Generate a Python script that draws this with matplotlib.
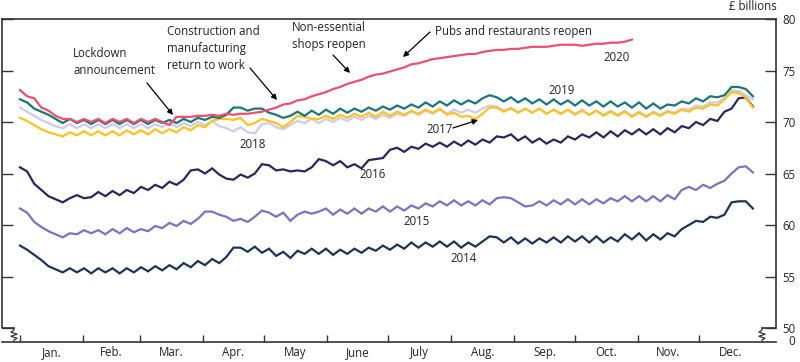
import numpy as np
import matplotlib
matplotlib.use("Agg")
import matplotlib.pyplot as plt
from matplotlib.transforms import blended_transform_factory

plt.rcParams['font.family'] = ['Open Sans', 'DejaVu Sans']

# weekly notes-in-circulation style series, two readings per week (every 3.5 days)
v2014 = [58.0, 57.6, 57.1, 56.6, 56.0, 55.7, 55.4, 55.8, 55.4, 55.8, 55.3, 55.8, 55.4, 55.8, 55.3, 55.8,
         55.4, 55.9, 55.5, 56.0, 55.6, 56.1, 55.7, 56.3, 55.9, 56.5, 56.1, 56.7, 56.3, 56.9, 57.8, 57.8,
         57.4, 57.9, 57.3, 57.7, 57.0, 57.4, 56.8, 57.5, 57.2, 57.7, 57.2, 57.7, 57.1, 57.6, 57.2, 57.7,
         57.3, 57.8, 57.5, 58.0, 57.6, 58.1, 57.7, 58.3, 57.8, 58.3, 57.9, 58.4, 57.9, 58.4, 57.8, 58.3,
         57.9, 58.4, 58.9, 58.8, 58.3, 58.8, 58.2, 58.7, 58.2, 58.7, 58.3, 58.8, 58.3, 58.9, 58.4, 58.9,
         58.3, 58.9, 58.3, 58.8, 58.4, 59.1, 58.6, 59.2, 58.5, 59.1, 58.6, 59.2, 58.9, 59.6, 60.0, 60.4,
         60.3, 60.8, 60.7, 61.0, 62.2, 62.3, 62.3, 61.6]
v2015 = [61.6, 61.2, 60.3, 59.8, 59.4, 59.1, 58.8, 59.2, 59.1, 59.5, 59.2, 59.5, 59.1, 59.6, 59.2, 59.7,
         59.3, 59.6, 59.4, 59.9, 59.7, 60.2, 59.9, 60.4, 60.1, 60.6, 61.3, 61.3, 61.0, 60.8, 60.4, 60.6,
         60.3, 60.8, 61.4, 61.2, 60.8, 61.2, 60.4, 61.0, 61.3, 61.1, 61.3, 61.6, 61.0, 61.5, 61.1, 61.6,
         61.1, 61.6, 61.3, 61.8, 61.3, 61.8, 61.4, 61.9, 61.6, 62.1, 61.8, 62.3, 61.9, 62.4, 61.9, 62.3,
         61.9, 62.4, 62.0, 62.6, 62.7, 62.6, 62.2, 61.8, 61.9, 62.3, 61.9, 62.4, 62.0, 62.5, 62.0, 62.5,
         62.0, 62.5, 62.1, 62.6, 62.3, 62.8, 62.3, 62.8, 62.3, 62.8, 62.3, 62.9, 62.5, 63.4, 63.7, 63.4,
         63.9, 63.6, 64.0, 64.3, 65.0, 65.6, 65.7, 65.1]
v2016 = [65.6, 65.2, 64.0, 63.4, 62.8, 62.5, 62.2, 62.6, 62.9, 62.6, 62.7, 63.2, 62.8, 63.3, 62.9, 63.4,
         63.1, 63.7, 63.4, 63.9, 63.6, 64.2, 63.9, 64.4, 65.3, 65.4, 65.0, 65.5, 64.9, 64.5, 64.4, 64.9,
         64.6, 65.0, 65.9, 65.8, 65.3, 65.4, 65.2, 65.3, 65.2, 65.6, 66.4, 66.2, 65.8, 66.2, 65.6, 65.9,
         65.5, 66.3, 66.4, 66.5, 67.3, 67.5, 67.1, 67.6, 67.4, 67.9, 67.6, 68.0, 67.6, 68.1, 67.7, 68.2,
         67.8, 68.3, 68.0, 68.6, 68.5, 68.8, 68.2, 68.6, 68.0, 68.4, 67.9, 68.3, 68.0, 68.6, 68.3, 68.8,
         68.5, 69.0, 68.5, 69.1, 68.6, 69.2, 68.8, 69.3, 68.8, 69.3, 68.8, 69.4, 69.0, 69.6, 69.4, 70.0,
         69.7, 70.3, 70.1, 71.0, 71.3, 72.3, 72.4, 71.5]
v2017 = [70.4, 70.1, 69.7, 69.3, 69.0, 68.8, 68.6, 69.0, 68.7, 69.1, 68.7, 69.1, 68.7, 69.1, 68.7, 69.2,
         68.8, 69.2, 68.8, 69.3, 68.9, 69.3, 69.0, 69.5, 69.2, 69.7, 69.5, 70.1, 70.3, 70.3, 70.2, 70.4,
         69.7, 69.9, 70.3, 70.1, 69.9, 69.5, 70.0, 70.6, 70.5, 70.3, 70.3, 70.6, 70.3, 70.7, 70.4, 70.8,
         70.5, 70.9, 70.5, 71.0, 70.6, 71.0, 70.7, 71.1, 70.8, 71.2, 70.9, 71.3, 70.7, 70.9, 70.5, 70.6,
         70.3, 70.8, 71.4, 71.4, 71.0, 71.3, 70.9, 71.3, 70.9, 71.3, 70.8, 71.2, 70.8, 71.2, 70.7, 71.1,
         70.7, 71.1, 70.6, 71.0, 70.6, 71.0, 70.5, 70.9, 70.5, 70.9, 70.6, 71.0, 70.8, 71.2, 71.0, 71.4,
         71.3, 71.7, 71.6, 72.2, 72.9, 72.8, 72.4, 71.4]
v2018 = [71.4, 71.0, 70.6, 70.2, 69.9, 69.6, 69.4, 69.8, 69.4, 69.8, 69.4, 69.8, 69.4, 69.8, 69.4, 69.8,
         69.4, 69.8, 69.4, 69.8, 69.5, 69.9, 69.5, 69.9, 69.6, 70.0, 69.7, 70.1, 69.6, 69.4, 69.1, 69.5,
         69.0, 68.9, 69.8, 69.9, 69.5, 69.3, 69.7, 70.1, 69.9, 70.3, 69.9, 70.3, 70.0, 70.4, 70.1, 70.5,
         70.2, 70.6, 70.3, 70.7, 70.4, 70.8, 70.6, 71.0, 70.7, 71.1, 70.8, 71.2, 70.8, 71.2, 70.9, 71.2,
         70.9, 71.3, 71.6, 71.5, 71.1, 71.4, 70.9, 71.3, 70.9, 71.3, 70.8, 71.2, 70.8, 71.2, 70.8, 71.2,
         70.7, 71.1, 70.7, 71.1, 70.7, 71.1, 70.6, 71.0, 70.6, 71.0, 70.7, 71.1, 70.9, 71.3, 71.2, 71.6,
         71.5, 71.9, 71.9, 72.3, 73.1, 73.0, 72.6, 72.2]
v2019 = [72.2, 71.9, 71.3, 71.0, 70.7, 70.3, 69.9, 70.3, 69.9, 70.2, 69.8, 70.2, 69.8, 70.2, 69.8, 70.2,
         69.8, 70.2, 69.8, 70.2, 69.9, 70.2, 69.9, 70.3, 70.0, 70.4, 70.2, 70.5, 70.4, 70.7, 71.4, 71.4,
         71.1, 71.3, 71.3, 70.9, 70.7, 70.4, 70.6, 71.0, 70.6, 71.1, 70.7, 71.2, 70.8, 71.3, 70.9, 71.3,
         71.0, 71.4, 71.1, 71.5, 71.2, 71.6, 71.3, 71.7, 71.4, 71.9, 71.5, 72.0, 71.6, 72.1, 71.7, 72.1,
         71.8, 72.3, 72.6, 72.4, 72.0, 72.4, 71.9, 72.3, 71.8, 72.2, 71.7, 72.2, 71.7, 72.1, 71.6, 72.1,
         71.6, 72.0, 71.5, 72.0, 71.5, 71.9, 71.4, 71.9, 71.3, 71.8, 71.3, 71.7, 71.6, 72.0, 71.8, 72.3,
         72.0, 72.5, 72.4, 72.6, 73.4, 73.4, 73.2, 72.5]
v2020 = [73.1, 72.5, 72.3, 71.4, 71.1, 70.6, 70.3, 70.3, 70.0, 70.3, 70.0, 70.3, 69.9, 70.3, 70.0, 70.3,
         69.9, 70.3, 70.0, 70.3, 70.0, 69.7, 70.5, 70.5, 70.5, 70.6, 70.6, 70.7, 70.6, 70.8, 70.7, 70.8,
         70.8, 70.9, 71.0, 71.2, 71.4, 71.7, 71.8, 72.1, 72.2, 72.5, 72.7, 72.9, 73.2, 73.4, 73.7, 73.9,
         74.1, 74.4, 74.6, 74.7, 74.9, 75.1, 75.3, 75.6, 75.7, 75.9, 76.1, 76.2, 76.3, 76.4, 76.5, 76.6,
         76.6, 76.8, 76.9, 77.0, 77.0, 77.1, 77.1, 77.2, 77.3, 77.3, 77.3, 77.4, 77.5, 77.5, 77.5, 77.4,
         77.5, 77.6, 77.6, 77.7, 77.7, 77.8, 78.0]

months = ['Jan.', 'Feb.', 'Mar.', 'Apr.', 'May', 'June', 'July', 'Aug.', 'Sep.', 'Oct.', 'Nov.', 'Dec.']
month_start = [0, 31, 59, 90, 120, 151, 181, 212, 243, 273, 304, 334, 365]
yticks = [50, 55, 60, 65, 70, 75, 80]

series = [
    ('2014', v2014, '#1d3457'),
    ('2015', v2015, '#7b72c3'),
    ('2016', v2016, '#2c2560'),
    ('2018', v2018, '#cfcbe8'),
    ('2017', v2017, '#fcc31e'),
    ('2019', v2019, '#17777a'),
    ('2020', v2020, '#ee4f6f'),
]

# pixel -> data helpers (chart is laid out in pixels on an 800x362 canvas)
def px_day(x):
    return (x - 20) / 2.033

def px_val(y):
    return 80 - (y - 19) / 10.3

fig = plt.figure(figsize=(8, 3.62), dpi=100)
ax = fig.add_axes([1.5 / 800, 20.5 / 362, 774.5 / 800, 322.5 / 362])

for name, vals, col in series:
    days = np.arange(len(vals)) * 3.5
    ax.plot(days, vals, color=col, lw=1.6, solid_joinstyle='miter', zorder=3)

ax.set_xlim(px_day(1.5), px_day(776))
ax.set_ylim(px_val(341.5), 80)

frame = '#333333'
fs = 8.3
for s in ['left', 'right']:
    ax.spines[s].set_visible(False)
ax.spines['top'].set_color(frame)
ax.spines['bottom'].set_color(frame)
ax.spines['top'].set_linewidth(1.2)
ax.spines['bottom'].set_linewidth(1.2)

# broken side spines
tr = blended_transform_factory(ax.transAxes, ax.transData)
yb = px_val(341.5)
xl = 12.5 / 774.5
xr = 1 - 14 / 774.5
zz = [50, 49.8, 49.6, 49.4, 49.2, 49.0, 48.85]
zx = [0, 0, -0.004, 0.004, -0.004, 0.004, 0]
ax.plot([0, 0, xl], [80, 50, 50], color=frame, lw=1.2, transform=tr, clip_on=False)
ax.plot([xl + d for d in zx] + [xl], zz + [yb], color=frame, lw=0.9, transform=tr, clip_on=False)
ax.plot([1, 1, xr], [80, 50, 50], color=frame, lw=1.2, transform=tr, clip_on=False)
ax.plot([xr + d for d in zx] + [xr], zz + [yb], color=frame, lw=0.9, transform=tr, clip_on=False)

# y ticks both sides, labels on right
ax.set_yticks(yticks)
ax.yaxis.set_ticks_position('both')
ax.tick_params(axis='y', direction='in', length=8, width=1.0, color=frame,
               labelleft=False, labelright=True, pad=14, labelsize=fs, labelcolor='#222222')
for lbl in ax.get_yticklabels():
    lbl.set_horizontalalignment('right')
ax.annotate('0', xy=(1, yb), xycoords=tr, xytext=(14, 0), textcoords='offset points',
            ha='right', va='center', fontsize=fs, color='#222222')
fig.text(777 / 800, 1 - 7 / 362, '£ billions', ha='right', va='center',
         fontsize=fs, color='#222222')

# x ticks at month starts, labels mid-month
ax.set_xticks(month_start[:-1])
ax.set_xticklabels([])
ax.tick_params(axis='x', direction='in', length=5, width=1.0, color=frame, top=False)
mids = [(a + b) / 2 for a, b in zip(month_start[:-1], month_start[1:])]
ax.set_xticks(mids, minor=True)
ax.set_xticklabels(months, minor=True)
ax.tick_params(axis='x', which='minor', length=0, pad=3, labelsize=fs, labelcolor='#222222')

# annotations
txt = dict(fontsize=fs, color='#222222', linespacing=1.4)
ax.text(px_day(73), px_val(62.5), 'Lockdown\nannouncement', ha='left', va='center', **txt)
ax.text(px_day(167), px_val(48), 'Construction and\nmanufacturing\nreturn to work', ha='left', va='center', **txt)
ax.text(px_day(292), px_val(36.5), 'Non-essential\nshops reopen', ha='left', va='center', **txt)
ax.text(px_day(435), px_val(31), 'Pubs and restaurants reopen', ha='left', va='center', **txt)

arrows = [((147, 83), (173, 115)), ((250, 68), (277, 100)), ((333, 55), (350, 73)),
          ((430, 32), (403, 57)), ((453, 128), (478, 120))]
for (tx, ty), (hx, hy) in arrows:
    ax.annotate('', xy=(px_day(hx), px_val(hy)), xytext=(px_day(tx), px_val(ty)),
                arrowprops=dict(arrowstyle='-|>', color='black', lw=0.9, mutation_scale=8,
                                shrinkA=0, shrinkB=0), zorder=5)

year_pos = {'2020': (617, 57), '2019': (562, 90), '2017': (440, 130), '2018': (253, 144),
            '2016': (373, 175), '2015': (417, 221), '2014': (464, 259)}
for name, (x, y) in year_pos.items():
    ax.text(px_day(x), px_val(y), name, ha='center', va='center', fontsize=fs, color='#222222')

fig.savefig('out.png', dpi=100)
